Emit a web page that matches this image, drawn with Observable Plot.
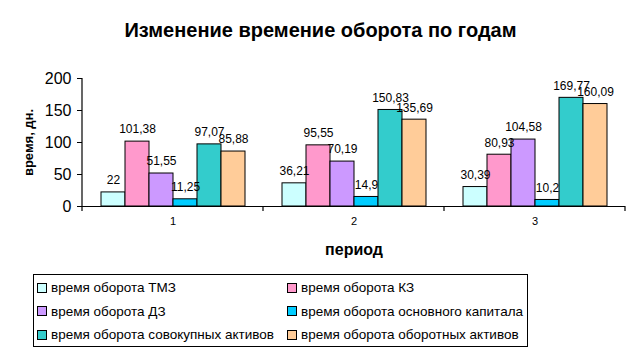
<!DOCTYPE html>
<html><head><meta charset="utf-8">
<script src="https://cdn.jsdelivr.net/npm/d3@7"></script>
<script src="https://cdn.jsdelivr.net/npm/@observablehq/plot@0.6"></script>
<style>
body{margin:0;background:#fff;font-family:"Liberation Sans",Arial,sans-serif;}
#wrap{position:relative;width:641px;height:358px;overflow:hidden;}
#title{position:absolute;left:0;width:641px;top:18px;text-align:center;font-weight:bold;font-size:20px;line-height:24px;}
#chart{position:absolute;left:0;top:0;}
#legend{position:absolute;left:33px;top:274px;width:495px;height:73px;border:1px solid #000;box-sizing:border-box;font-size:13.5px;}
.item{position:absolute;display:flex;align-items:center;white-space:nowrap;}
.sw{width:8px;height:8px;border:1px solid #000;margin-right:4px;}
</style></head>
<body><div id="wrap"><div id="chart"></div><div id="title"></div><div id="legend"></div></div>
<script>
const title = "Изменение времение оборота по годам";
const periods = [1, 2, 3];
const series = ["время оборота ТМЗ", "время оборота КЗ", "время оборота ДЗ", "время оборота основного капитала", "время оборота совокупных активов", "время оборота оборотных активов"];
const colors = ["#CCFFFF", "#FF99CC", "#CC99FF", "#00CCFF", "#33CCCC", "#FFCC99"];
const valTMZ = [22, 36.21, 30.39];
const valKZ = [101.38, 95.55, 80.93];
const valDZ = [51.55, 70.19, 104.58];
const valOK = [11.25, 14.9, 10.2];
const valSA = [97.07, 150.83, 169.77];
const valOA = [85.88, 135.69, 160.09];
const yTicks = [0, 50, 100, 150, 200];
const yLabel = "время, дн.";
const xLabel = "период";

const seriesValues = [valTMZ, valKZ, valDZ, valOK, valSA, valOA];
const data = [];
periods.forEach((p, pi) => series.forEach((s, si) => data.push({period: p, series: s, value: seriesValues[si][pi]})));
const fmt = v => String(v).replace(".", ",");
const font = '"Liberation Sans", Arial, sans-serif';

document.getElementById("title").textContent = title;

const plot = Plot.plot({
  width: 641, height: 260,
  marginLeft: 82, marginRight: 16, marginTop: 78, marginBottom: 54,
  style: {fontFamily: font, background: "transparent", color: "#000"},
  fx: {domain: periods, paddingInner: 0, paddingOuter: 0},
  x: {domain: series, paddingInner: 0, paddingOuter: 0.75, axis: null},
  y: {domain: [0, 200]},
  color: {domain: series, range: colors},
  marks: [
    Plot.barY(data, {fx: "period", x: "series", y: "value", fill: "series", stroke: "#000", strokeWidth: 1}),
    Plot.text(data, {fx: "period", x: "series", y: "value", text: d => fmt(d.value), dy: -12, fontSize: 12, fill: "#000"}),
    Plot.ruleY([0], {stroke: "#000", strokeWidth: 1.2}),
    Plot.axisY({ticks: yTicks, tickSize: 5, tickPadding: 6, fontSize: 16, label: yLabel, labelAnchor: "center", labelOffset: 59, labelArrow: "none"}),
    Plot.axisFx({anchor: "bottom", tickSize: 0, tickPadding: 11, fontSize: 11, label: xLabel, labelAnchor: "center", labelOffset: 48, labelArrow: "none"})
  ]
});
document.getElementById("chart").appendChild(plot);

// bold axis titles
const svg = d3.select(plot);
svg.selectAll("g[aria-label='y-axis label'] text").attr("font-weight", "bold").attr("font-size", 13);
svg.selectAll("g[aria-label='fx-axis label'] text").attr("font-weight", "bold").attr("font-size", 16);

// y axis line and category separator ticks from the scales
const fxS = plot.scale("fx"), yS = plot.scale("y");
const y0 = yS.apply(0), yTop = yS.apply(200);
const xs = periods.map(p => fxS.apply(p));
xs.push(fxS.apply(periods[periods.length - 1]) + fxS.bandwidth);
const g = svg.append("g").attr("stroke", "#000").attr("stroke-width", 1.2);
g.append("line").attr("x1", xs[0]).attr("x2", xs[0]).attr("y1", yTop).attr("y2", y0 + 5);
xs.slice(1).forEach(x => g.append("line").attr("x1", x).attr("x2", x).attr("y1", y0).attr("y2", y0 + 5));

// legend
const legend = document.getElementById("legend");
series.forEach((s, i) => {
  const col = i % 2, row = Math.floor(i / 2);
  const it = document.createElement("div");
  it.className = "item";
  it.style.left = (col ? 253 : 3) + "px";
  it.style.top = (5 + row * 23.5) + "px";
  it.innerHTML = `<div class="sw" style="background:${colors[i]}"></div><span>${s}</span>`;
  legend.appendChild(it);
});
</script></body></html>
